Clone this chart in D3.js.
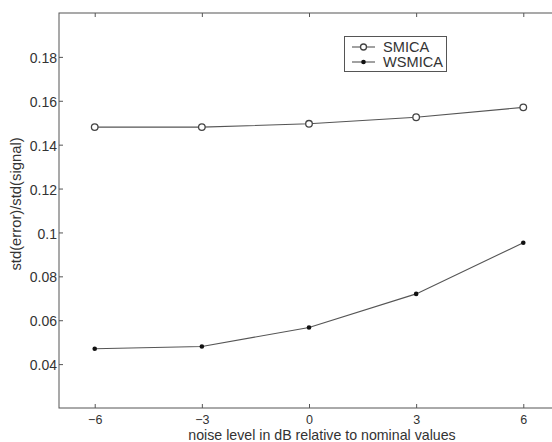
<!DOCTYPE html>
<html>
<head>
<meta charset="utf-8">
<script src="https://cdn.jsdelivr.net/npm/d3@7"></script>
<style>
  body { margin: 0; background: #fff; }
  text { font-family: "Liberation Sans", Arial, sans-serif; fill: #333; }
</style>
</head>
<body>
<svg id="chart" width="552" height="442"></svg>
<script>
// noise levels (dB) and the two error curves
const noiseLevels = [-6, -3, 0, 3, 6];
const smica = [0.148, 0.148, 0.1495, 0.1525, 0.157];
const wsmica = [0.047, 0.048, 0.0567, 0.072, 0.0953];
const xTicks = [-6, -3, 0, 3, 6];
const yTicks = [0.04, 0.06, 0.08, 0.1, 0.12, 0.14, 0.16, 0.18];

const svg = d3.select("#chart");
const plotL = 59, plotT = 13, plotR = 559, plotB = 408;
const ink = "#555";

const x = d3.scaleLinear().domain([-7, 7]).range([plotL, plotR]);
const y = d3.scaleLinear().domain([0.02, 0.2]).range([plotB, plotT]);

// frame
svg.append("rect")
    .attr("x", plotL).attr("y", plotT)
    .attr("width", plotR - plotL).attr("height", plotB - plotT)
    .attr("fill", "none").attr("stroke", ink).attr("stroke-width", 1);

// axes, ticks pointing inward
const fmt = d => d === 0.1 ? "0.1" : d3.format(".2f")(d);
const xAxis = svg.append("g").attr("transform", `translate(0,${plotB})`)
    .call(d3.axisBottom(x).tickValues(xTicks).tickSizeInner(-4).tickSizeOuter(0)
        .tickFormat(d => d < 0 ? "\u2212" + Math.abs(d) : d));
const xTop = svg.append("g").attr("transform", `translate(0,${plotT})`)
    .call(d3.axisTop(x).tickValues(xTicks).tickSizeInner(-4).tickSizeOuter(0).tickFormat(""));
const yAxis = svg.append("g").attr("transform", `translate(${plotL},0)`)
    .call(d3.axisLeft(y).tickValues(yTicks).tickSizeInner(-4).tickSizeOuter(0).tickFormat(fmt));

[xAxis, xTop, yAxis].forEach(g => {
    g.select(".domain").remove();
    g.selectAll(".tick line").attr("stroke", ink);
    g.selectAll("text").attr("font-size", 14).attr("font-family", null).style("fill", "#333");
});
xAxis.selectAll("text").attr("font-size", 12.5).attr("y", 16).attr("dy", null);
yAxis.selectAll("text").attr("x", -2).attr("dy", "0.4em");

// axis labels
svg.append("text")
    .attr("x", 322).attr("y", 440)
    .attr("text-anchor", "middle").attr("font-size", 14.2)
    .text("noise level in dB relative to nominal values");
svg.append("text")
    .attr("transform", "translate(21,204) rotate(-90)")
    .attr("text-anchor", "middle").attr("font-size", 14.8)
    .text("std(error)/std(signal)");

const line = d3.line().x((d, i) => x(noiseLevels[i])).y(d => y(d));

// SMICA: line with open circles
svg.append("path").datum(smica)
    .attr("d", line).attr("fill", "none").attr("stroke", ink).attr("stroke-width", 1.1);
svg.selectAll("circle.smica").data(smica).join("circle")
    .attr("class", "smica")
    .attr("cx", (d, i) => x(noiseLevels[i])).attr("cy", d => y(d))
    .attr("r", 3.3).attr("fill", "#fff").attr("stroke", "#444").attr("stroke-width", 1.3);

// WSMICA: line with filled dots
svg.append("path").datum(wsmica)
    .attr("d", line).attr("fill", "none").attr("stroke", ink).attr("stroke-width", 1.1);
svg.selectAll("circle.wsmica").data(wsmica).join("circle")
    .attr("class", "wsmica")
    .attr("cx", (d, i) => x(noiseLevels[i])).attr("cy", d => y(d))
    .attr("r", 2.3).attr("fill", "#111");

// legend
const legend = svg.append("g");
legend.append("rect")
    .attr("x", 344.5).attr("y", 36.5).attr("width", 102).attr("height", 35)
    .attr("fill", "#fff").attr("stroke", ink).attr("stroke-width", 1);
const rows = [{ name: "SMICA", yy: 47, open: true }, { name: "WSMICA", yy: 62, open: false }];
rows.forEach(r => {
    legend.append("line")
        .attr("x1", 352).attr("x2", 375).attr("y1", r.yy).attr("y2", r.yy)
        .attr("stroke", ink).attr("stroke-width", 1.1);
    legend.append("circle")
        .attr("cx", 363.5).attr("cy", r.yy)
        .attr("r", r.open ? 3 : 2.3)
        .attr("fill", r.open ? "#fff" : "#111")
        .attr("stroke", r.open ? "#444" : "none").attr("stroke-width", 1.3);
    legend.append("text")
        .attr("x", 383).attr("y", r.yy).attr("dy", "0.36em")
        .attr("font-size", 14.6)
        .text(r.name);
});
</script>
</body>
</html>
